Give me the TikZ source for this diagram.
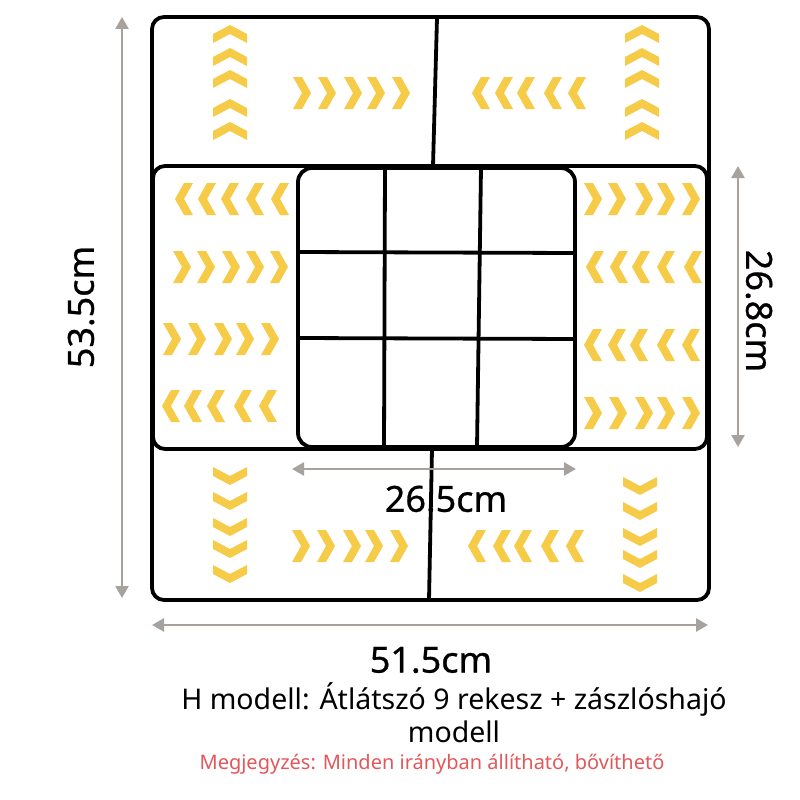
\documentclass[tikz,border=0pt]{standalone}
\usepackage{fontspec}
\setmainfont{Noto Sans}
\newfontfamily\dimfont{Noto Sans}[FakeBold=0.7]
\usetikzlibrary{arrows.meta}
\definecolor{chev}{HTML}{F5CB48}
\definecolor{dimgray}{HTML}{A8A29F}
\definecolor{notered}{HTML}{E2575A}
\tikzset{
  frame/.style={draw=black,line width=3.8pt,fill=white},
  divline/.style={draw=black,line width=3.8pt},
  dimarrow/.style={draw=dimgray,line width=2.6pt,{Triangle[length=12pt,width=13pt]}-{Triangle[length=12pt,width=13pt]}},
  dimlabel/.style={font=\dimfont\fontsize{36}{42}\selectfont,inner sep=0pt},
  pics/chevR/.style={code={\fill[chev] (-9,-16)--(0,-16)--(9,0)--(0,16)--(-9,16)--(0,0)--cycle;}},
  pics/chevL/.style={code={\fill[chev] (9,-16)--(0,-16)--(-9,0)--(0,16)--(9,16)--(0,0)--cycle;}},
  pics/chevU/.style={code={\fill[chev] (-17,9)--(-17,0)--(0,-9)--(17,0)--(17,9)--(0,0)--cycle;}},
  pics/chevD/.style={code={\fill[chev] (-17,-9)--(-17,0)--(0,9)--(17,0)--(17,-9)--(0,0)--cycle;}},
}
\begin{document}
\begin{tikzpicture}[x=1pt,y=-1pt]
\useasboundingbox (0,0) rectangle (800,800);
% outer tray
\draw[frame,rounded corners=12] (152,17) rectangle (709,600);
% middle band
\draw[frame,rounded corners=12] (153,166) rectangle (707,449);
% 9-compartment box
\draw[frame,rounded corners=14] (298,168) rectangle (575,447);
\draw[divline] (385,168) -- (384,447);
\draw[divline] (481,168) -- (477,447);
\draw[divline] (298,252) -- (575,253);
\draw[divline] (298,338) -- (575,339);
% dimension texts
\node[dimlabel] (d265) at (446,499) {26.5cm};
\node[dimlabel] (d515) at (431,660) {51.5cm};
\node[dimlabel,rotate=90] (d535) at (81,307) {53.5cm};
\node[dimlabel,rotate=-90] (d268) at (759,311) {26.8cm};
% dividers
\draw[divline] (437,18) -- (433,166);
\draw[divline] (432,449) -- (429,600);
% dimension arrows
\coordinate (lt) at (122,17); \coordinate (lb) at (122,598);
\coordinate (rt) at (738,166); \coordinate (rb) at (738,447);
\coordinate (bl) at (152,625); \coordinate (br) at (708,625);
\coordinate (il) at (292,469); \coordinate (ir) at (576,469);
\draw[dimarrow] (lt) -- (lb);
\draw[dimarrow] (rt) -- (rb);
\draw[dimarrow] (bl) -- (br);
\draw[dimarrow] (il) -- (ir);
% chevrons top
\foreach \y in {34,57,79,108,131} {\pic at (230,\y) {chevU}; \pic at (642,\y) {chevU};}
\foreach \x in {302,327,353,376,401} {\pic at (\x,93) {chevR};}
\foreach \x in {481,504,526,553,577} {\pic at (\x,93) {chevL};}
% chevrons middle left
\foreach \x in {184,207,230,255,280} {\pic at (\x,199) {chevL};}
\foreach \x in {182,206,231,255,279} {\pic at (\x,267) {chevR};}
\foreach \x in {172,197,223,245,270} {\pic at (\x,339) {chevR};}
\foreach \x in {171,193,216,243,268} {\pic at (\x,406) {chevL};}
% chevrons middle right
\foreach \x in {593,617,644,666,691} {\pic at (\x,199) {chevR};}
\foreach \x in {595,619,641,666,693} {\pic at (\x,267) {chevL};}
\foreach \x in {593,617,639,666,691} {\pic at (\x,345) {chevL};}
\foreach \x in {593,618,644,666,691} {\pic at (\x,413) {chevR};}
% chevrons bottom
\foreach \y in {476,501,527,549,574} {\pic at (230,\y) {chevD};}
\foreach \y in {486,511,537,559,583} {\pic at (640,\y) {chevD};}
\foreach \x in {301,326,352,374,399} {\pic at (\x,546) {chevR};}
\foreach \x in {477,502,523,550,575} {\pic at (\x,546) {chevL};}
% captions
\node[font=\fontsize{28.5}{33}\selectfont,align=center,inner sep=0pt] (title) at (454,713) {H modell: Átlátszó 9 rekesz + zászlóshajó\\modell};
\node[font=\fontsize{20}{24}\selectfont,text=notered,inner sep=0pt] (note) at (432,764) {Megjegyzés: Minden irányban állítható, bővíthető};
\end{tikzpicture}
\end{document}
